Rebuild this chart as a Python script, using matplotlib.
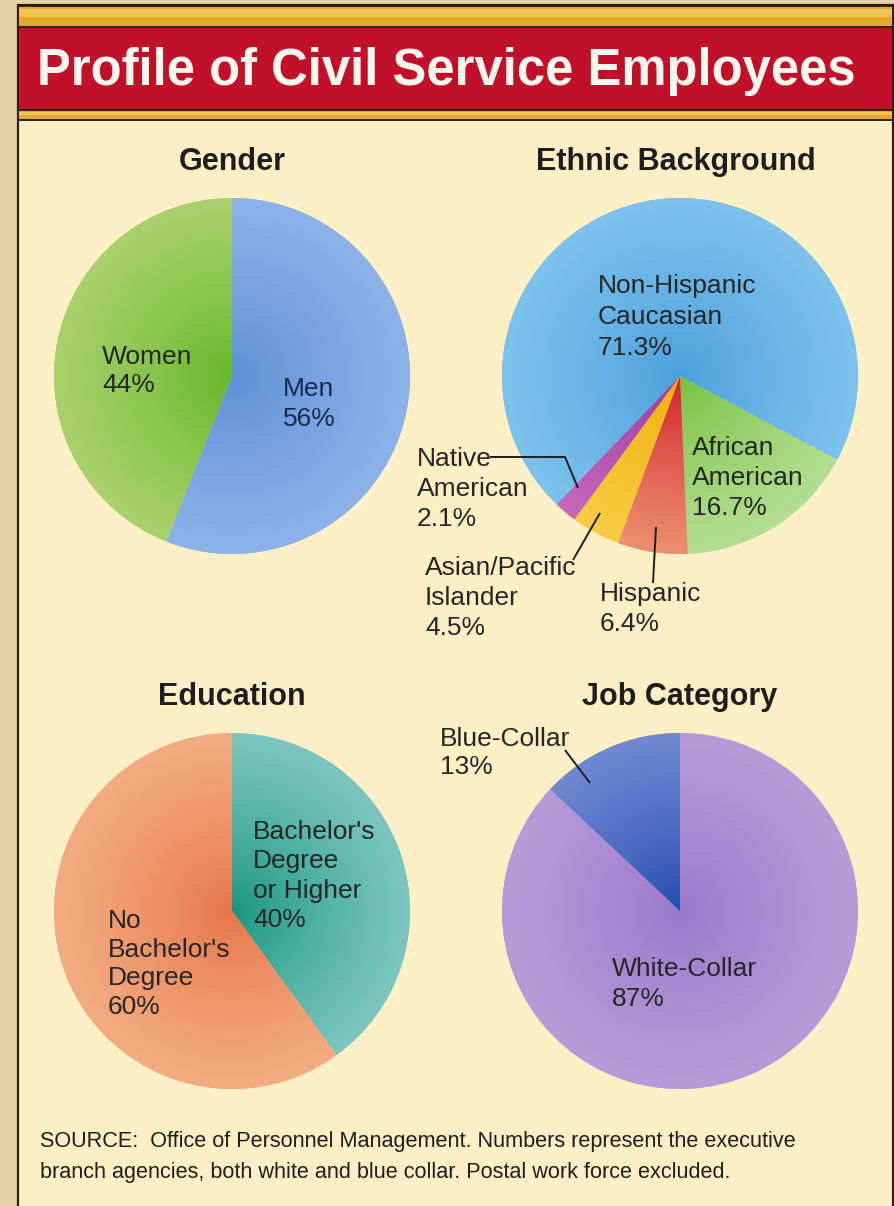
import numpy as np
import matplotlib
matplotlib.use("Agg")
import matplotlib.pyplot as plt
from matplotlib.patches import Rectangle
from matplotlib.colors import to_rgb

plt.rcParams['font.family'] = ['Liberation Sans', 'DejaVu Sans']

# ---------------- data ----------------
gender_labels = ["Men", "Women"]
gender_values = [56, 44]

ethnic_labels = ["African American", "Hispanic", "Asian/Pacific Islander",
                 "Native American", "Non-Hispanic Caucasian"]
ethnic_values = [16.7, 6.4, 4.5, 2.1, 71.3]

education_labels = ["Bachelor's Degree or Higher", "No Bachelor's Degree"]
education_values = [40, 60]

job_labels = ["White-Collar", "Blue-Collar"]
job_values = [87, 13]

# ---------------- styles ----------------
W, H = 895, 1206
TXT = "#262626"
gender_colors = [("#5a8ed6", "#8cb2e8"), ("#62b628", "#a9d16c")]
ethnic_colors = [("#76c03e", "#b4de92"), ("#d21a26", "#eb9070"),
                 ("#efae00", "#f6cc46"), ("#9c34a0", "#c468bc"),
                 ("#4a9edc", "#7cc2ec")]
education_colors = [("#16957e", "#7cc6c0"), ("#e67448", "#f3ac82")]
job_colors = [("#9878c8", "#b89ada"), ("#2448ae", "#7088d2")]

fig = plt.figure(figsize=(W / 100, H / 100), dpi=100)
fig.patch.set_facecolor("#e8d3a5")

bg = fig.add_axes([0, 0, 1, 1], zorder=0)
bg.set_xlim(0, W)
bg.set_ylim(H, 0)
bg.axis("off")

# panel
bg.add_patch(Rectangle((18, 5), 875, 1210, facecolor="#fcefc5",
                       edgecolor="#2b2010", lw=1.6))
# title band
bg.add_patch(Rectangle((19, 6), 873, 115, facecolor="#3a2408", lw=0))
bg.add_patch(Rectangle((19, 7), 873, 19, facecolor="#e2a82c", lw=0))
bg.add_patch(Rectangle((19, 9), 873, 8, facecolor="#f0c450", lw=0))
bg.add_patch(Rectangle((19, 28), 873, 81, facecolor="#c0102a", lw=0))
bg.add_patch(Rectangle((19, 111), 873, 8, facecolor="#e0a82c", lw=0))
bg.add_patch(Rectangle((19, 112), 873, 3, facecolor="#f0c450", lw=0))


def radial_pie(center, r, values, colors, startangle):
    cx, cy = center
    ax = fig.add_axes([(cx - r) / W, 1 - (cy + r) / H, 2 * r / W, 2 * r / H],
                      zorder=2)
    wedges, _ = ax.pie(values, startangle=startangle, counterclock=False,
                       colors=[c[1] for c in colors], radius=1,
                       wedgeprops=dict(linewidth=0))
    ax.set_xlim(-1, 1)
    ax.set_ylim(-1, 1)
    ax.set_aspect("equal")
    ax.axis("off")
    yy, xx = np.mgrid[-1:1:300j, -1:1:300j]
    rr = np.clip(np.sqrt(xx ** 2 + yy ** 2), 0, 1)[..., None]
    for w, (cin, cout) in zip(wedges, colors):
        a = np.array(to_rgb(cin))
        b = np.array(to_rgb(cout))
        img = a * (1 - rr ** 0.8) + b * rr ** 0.8
        im = ax.imshow(img, extent=(-1, 1, -1, 1), origin="lower",
                       interpolation="bilinear", zorder=1)
        im.set_clip_path(w)
    return ax


radial_pie((232, 376), 178, gender_values, gender_colors, 90)
radial_pie((680, 376), 178, ethnic_values, ethnic_colors, -28)
radial_pie((232, 911), 178, education_values, education_colors, 90)
radial_pie((680, 911), 178, job_values, job_colors, 90)

top = fig.add_axes([0, 0, 1, 1], zorder=5)
top.set_xlim(0, W)
top.set_ylim(H, 0)
top.axis("off")
top.patch.set_alpha(0)

# titles
top.text(446, 72, "Profile of Civil Service Employees", color="#fff6ee",
         fontsize=36.5, fontweight="bold", ha="center", va="center")
for x, y, t in [(232, 162, "Gender"), (676, 162, "Ethnic Background"),
                (232, 697, "Education"), (680, 697, "Job Category")]:
    top.text(x, y, t, fontsize=22, fontweight="bold", color="#1e1e1e",
             ha="center", va="center")

FS = 19


def lab(x, y, s, color=TXT, ls=1.29):
    top.text(x, y, s, fontsize=FS, color=color, ha="left", va="center",
             linespacing=ls)


lab(102, 371, f"{gender_labels[1]}\n{gender_values[1]}%", ls=1.16)
lab(283, 404, f"{gender_labels[0]}\n{gender_values[0]}%", color="#1c2a4a",
    ls=1.3)

lab(598, 317, "Non-Hispanic\nCaucasian\n" + f"{ethnic_values[4]}%", ls=1.38)
lab(692, 478, "African\nAmerican\n" + f"{ethnic_values[0]}%", ls=1.34)
lab(417, 489, "Native\nAmerican\n" + f"{ethnic_values[3]}%", ls=1.31)
lab(425, 598, "Asian/Pacific\nIslander\n" + f"{ethnic_values[2]}%", ls=1.34)
lab(600, 609, f"{ethnic_labels[1]}\n{ethnic_values[1]}%", ls=1.33)

lab(253, 876, "Bachelor's\nDegree\nor Higher\n" + f"{education_values[0]}%")
lab(108, 964, "No\nBachelor's\nDegree\n" + f"{education_values[1]}%",
    ls=1.25)

lab(440, 753, f"{job_labels[1]}\n{job_values[1]}%", ls=1.25)
lab(612, 984, f"{job_labels[0]}\n{job_values[0]}%", ls=1.3)

# leader lines
lk = dict(color="#1e1e1e", lw=1.4, solid_capstyle="butt")
top.plot([490, 565, 578], [457, 457, 488], **lk)
top.plot([573, 600], [560, 513], **lk)
top.plot([656, 653], [527, 583], **lk)
top.plot([565, 590], [750, 783], **lk)

top.text(40, 1157,
         "SOURCE:  Office of Personnel Management. Numbers represent the executive\n"
         "branch agencies, both white and blue collar. Postal work force excluded.",
         fontsize=15.6, color="#1e1e1e", ha="left", va="center", linespacing=1.66)

fig.savefig("out.png", dpi=100, facecolor=fig.get_facecolor())
